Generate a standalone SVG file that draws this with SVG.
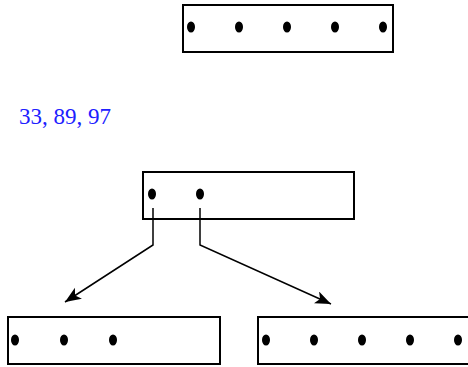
<svg xmlns="http://www.w3.org/2000/svg" width="468" height="367" viewBox="0 0 468 367">
<style>
.box{fill:#fff;stroke:#000;stroke-width:2}
.dot{fill:#000}
.ln{fill:none;stroke:#000;stroke-width:1.5}
</style>
<defs>
<marker id="ah" markerWidth="18" markerHeight="14" refX="16" refY="6.5" orient="auto" markerUnits="userSpaceOnUse">
<path d="M0,0 L16,6.5 L0,13 L4,6.5 Z" fill="#000"/>
</marker>
</defs>
<rect width="468" height="367" fill="#fff"/>
<g id="top">
<rect class="box" x="183" y="5" width="210" height="47"/>
<ellipse class="dot" cx="191" cy="27" rx="4" ry="5.5"/>
<ellipse class="dot" cx="239" cy="27" rx="4" ry="5.5"/>
<ellipse class="dot" cx="287" cy="27" rx="4" ry="5.5"/>
<ellipse class="dot" cx="335" cy="27" rx="4" ry="5.5"/>
<ellipse class="dot" cx="383" cy="27" rx="4" ry="5.5"/>
</g>
<g id="label">
<text x="19" y="124" font-family="Liberation Serif, serif" font-size="23" fill="#2020ff">33, 89, 97</text>
</g>
<g id="mid">
<rect class="box" x="143" y="172" width="211" height="47"/>
<ellipse class="dot" cx="152" cy="194" rx="4" ry="5.5"/>
<ellipse class="dot" cx="200" cy="194" rx="4" ry="5.5"/>
</g>
<g id="left">
<rect class="box" x="8" y="317" width="212" height="47"/>
<ellipse class="dot" cx="15" cy="340" rx="4" ry="5.5"/>
<ellipse class="dot" cx="64" cy="340" rx="4" ry="5.5"/>
<ellipse class="dot" cx="113" cy="340" rx="4" ry="5.5"/>
</g>
<g id="right">
<rect class="box" x="258" y="317" width="212" height="47"/>
<ellipse class="dot" cx="266" cy="340" rx="4" ry="5.5"/>
<ellipse class="dot" cx="314" cy="340" rx="4" ry="5.5"/>
<ellipse class="dot" cx="362" cy="340" rx="4" ry="5.5"/>
<ellipse class="dot" cx="410" cy="340" rx="4" ry="5.5"/>
<ellipse class="dot" cx="458" cy="340" rx="4" ry="5.5"/>
</g>
<g id="connectors">
<polyline class="ln" points="153,208 153,245 65,302" marker-end="url(#ah)"/>
<polyline class="ln" points="200,208 200,245 331,304" marker-end="url(#ah)"/>
</g>
</svg>
